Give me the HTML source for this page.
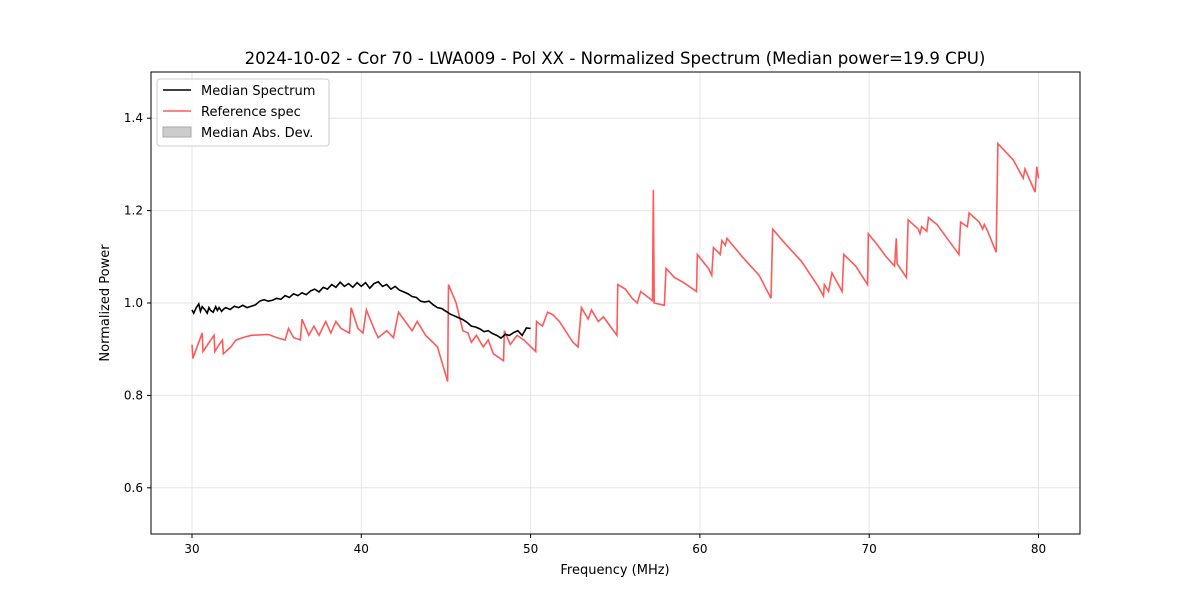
<!DOCTYPE html>
<html><head><meta charset="utf-8"><style>
body{margin:0;background:#fff;font-family:"Liberation Sans","DejaVu Sans",sans-serif}
svg text{font-family:"DejaVu Sans","Liberation Sans",sans-serif}
</style></head><body>
<svg id="chart" width="1200" height="600">
<rect width="1200" height="600" fill="#fff"/>
<g id="grid"></g>
<g id="series"></g>
<rect x="151" y="72" width="929" height="462" fill="none" stroke="#000" stroke-width="1"/>
<g id="ticks"></g>
<text x="615" y="64" font-size="16.6" text-anchor="middle">2024-10-02 - Cor 70 - LWA009 - Pol XX - Normalized Spectrum (Median power=19.9 CPU)</text>
<text x="615" y="574" font-size="13" text-anchor="middle">Frequency (MHz)</text>
<text x="109" y="303" font-size="13" text-anchor="middle" transform="rotate(-90 109 303)">Normalized Power</text>
<g>
<rect x="157" y="79" width="172" height="67" rx="3" fill="#fff" fill-opacity="0.8" stroke="#ccc"/>
<line x1="163" y1="90" x2="191" y2="90" stroke="#000" stroke-width="1.5"/>
<text x="201" y="95" font-size="13">Median Spectrum</text>
<line x1="163" y1="111" x2="191" y2="111" stroke="#ff5a5a" stroke-width="1.5"/>
<text x="201" y="116" font-size="13">Reference spec</text>
<rect x="163" y="127" width="28" height="10" fill="#ccc" stroke="#aaa"/>
<text x="201" y="137" font-size="13">Median Abs. Dev.</text>
</g>
</svg>
<script>
const xTicks=[30,40,50,60,70,80];
const yTicks=[0.6,0.8,1.0,1.2,1.4];
const yTickLabels=["0.6","0.8","1.0","1.2","1.4"];
const refFreq=[30.0,30.05,30.6,30.65,31.3,31.35,31.6,31.8,31.85,32.3,32.6,33,33.5,34.5,35,35.5,35.7,36,36.4,36.5,36.9,37.2,37.5,37.9,38.2,38.5,38.8,39.3,39.4,39.8,40.1,40.3,40.8,41,41.5,41.9,42.2,42.6,43,43.3,43.8,44.5,45.1,45.15,45.6,46,46.3,46.5,46.8,47.2,47.5,47.8,48.4,48.45,48.8,49.2,49.6,50.3,50.35,50.7,51,51.3,51.7,52.5,52.8,53,53.4,53.6,54,54.3,55.1,55.15,55.6,56,56.3,56.5,57.2,57.25,57.3,57.9,58,58.5,59,59.8,59.85,60.5,60.7,60.8,61.2,61.3,61.5,61.6,62.5,63.5,64.2,64.3,65,66,67,67.3,67.35,67.6,67.8,68.4,68.5,69.2,69.9,69.95,70.5,71,71.5,71.6,71.65,72.2,72.3,72.9,73,73.1,73.4,73.5,74,75,75.3,75.4,75.8,75.9,76.5,76.7,76.8,77,77.5,77.6,78.5,79.1,79.2,79.8,79.9,80];
const refValue=[0.91,0.88,0.935,0.895,0.93,0.895,0.91,0.92,0.89,0.905,0.92,0.925,0.93,0.932,0.925,0.92,0.945,0.925,0.92,0.965,0.93,0.95,0.93,0.96,0.935,0.96,0.945,0.935,0.99,0.945,0.935,0.985,0.94,0.925,0.94,0.925,0.98,0.96,0.94,0.96,0.93,0.905,0.83,1.04,1.0,0.94,0.935,0.915,0.93,0.905,0.92,0.89,0.875,0.94,0.91,0.93,0.92,0.895,0.96,0.95,0.98,0.975,0.96,0.915,0.905,0.99,0.965,0.985,0.96,0.97,0.93,1.04,1.03,1.01,1.0,1.025,1.005,1.245,1.0,0.995,1.075,1.055,1.045,1.025,1.105,1.075,1.06,1.12,1.105,1.135,1.125,1.14,1.1,1.06,1.01,1.16,1.13,1.09,1.035,1.015,1.04,1.025,1.065,1.025,1.105,1.08,1.04,1.15,1.125,1.1,1.08,1.14,1.085,1.055,1.18,1.16,1.15,1.165,1.155,1.185,1.17,1.12,1.105,1.175,1.165,1.195,1.175,1.16,1.17,1.155,1.11,1.345,1.31,1.27,1.29,1.24,1.295,1.27];
const medFreq=[30,30.1,30.25,30.4,30.5,30.6,30.75,30.9,31,31.1,31.25,31.4,31.5,31.6,31.75,31.9,32,32.25,32.5,32.75,33,33.25,33.5,33.75,34,34.25,34.5,34.75,35,35.25,35.5,35.75,36,36.25,36.5,36.75,37,37.25,37.5,37.75,38,38.25,38.5,38.75,39,39.25,39.5,39.75,40,40.25,40.5,40.75,41,41.25,41.5,41.75,42,42.25,42.5,42.75,43,43.25,43.5,43.75,44,44.25,44.5,44.75,45,45.25,45.5,45.75,46,46.25,46.5,46.75,47,47.25,47.5,47.75,48,48.25,48.5,48.75,49,49.25,49.5,49.75,50];
const medValue=[0.985,0.978,0.99,0.998,0.982,0.992,0.986,0.978,0.99,0.984,0.98,0.992,0.984,0.99,0.982,0.988,0.99,0.986,0.993,0.99,0.995,0.99,0.993,0.996,1.004,1.007,1.004,1.006,1.01,1.008,1.016,1.012,1.02,1.016,1.022,1.018,1.026,1.03,1.024,1.034,1.03,1.04,1.034,1.045,1.036,1.042,1.034,1.044,1.036,1.044,1.032,1.042,1.046,1.036,1.04,1.03,1.036,1.028,1.024,1.02,1.014,1.012,1.004,1.002,1.004,0.996,0.99,0.988,0.982,0.976,0.972,0.968,0.964,0.958,0.95,0.948,0.944,0.938,0.94,0.934,0.93,0.924,0.932,0.93,0.936,0.94,0.93,0.946,0.945];
const X=f=>192+(f-30)*16.93, Y=v=>303-(v-1)*462;
const NS="http://www.w3.org/2000/svg";
const grid=document.getElementById('grid'),ticks=document.getElementById('ticks'),ser=document.getElementById('series');
function mk(tag,attrs,parent){const e=document.createElementNS(NS,tag);for(const k in attrs)e.setAttribute(k,attrs[k]);parent.appendChild(e);return e;}
xTicks.forEach(t=>{
 const g=mk('line',{x1:X(t),x2:X(t),y1:72,y2:534,stroke:'#e6e6e6'},grid);
 
 
 mk('line',{x1:X(t),x2:X(t),y1:534,y2:538,stroke:'#000'},ticks);
 const tx=mk('text',{x:X(t),y:553,'font-size':12,'text-anchor':'middle'},ticks);tx.textContent=t;
 
 
});
yTicks.forEach((t,i)=>{
 const g=mk('line',{x1:151,x2:1080,y1:Y(t),y2:Y(t),stroke:'#e6e6e6'},grid);
 
 
 mk('line',{x1:147,x2:151,y1:Y(t),y2:Y(t),stroke:'#000'},ticks);
 const tx=mk('text',{x:143,y:Y(t)+4,'font-size':12,'text-anchor':'end'},ticks);tx.textContent=yTickLabels[i];
 
 
});
const rp=mk('polyline',{points:refFreq.map((f,i)=>X(f)+','+Y(refValue[i])).join(' '),fill:'none',stroke:'#ff5a5a','stroke-width':1.6},ser);


const mp=mk('polyline',{points:medFreq.map((f,i)=>X(f)+','+Y(medValue[i])).join(' '),fill:'none',stroke:'#000','stroke-width':1.6},ser);


</script>
</body></html>
